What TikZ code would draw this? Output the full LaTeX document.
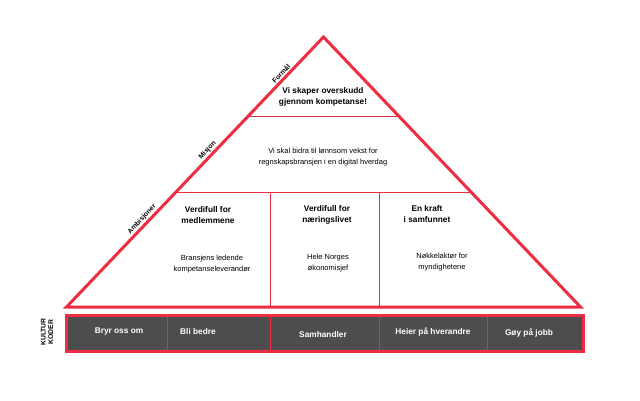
\documentclass[tikz,border=0pt]{standalone}
\usepackage{fontspec}
\setmainfont{Liberation Sans}
\definecolor{pyrred}{RGB}{239,45,66}
\definecolor{bargray}{RGB}{77,77,77}
\begin{document}
\begin{tikzpicture}[x=1pt,y=-1pt,
  txt/.style={align=center, font=\fontsize{7.5}{11}\selectfont},
  head/.style={align=center, font=\fontsize{8.3}{11.5}\selectfont\bfseries},
  side/.style={font=\fontsize{6.8}{7}\selectfont\bfseries, sloped, above, inner sep=2.5pt},
  code/.style={align=center, text=white, font=\fontsize{8.3}{10}\selectfont\bfseries}]
\useasboundingbox (0,0) rectangle (640,400);
\coordinate (top) at (323.5,37);
\coordinate (left) at (66.5,307);
\coordinate (right) at (580.5,307);
% inner lines
\draw[pyrred, line width=1pt] (248,116) -- (399,116);
\draw[pyrred, line width=1pt] (176,192) -- (471,192);
\draw[pyrred, line width=1pt] (270,192) -- (270,307);
\draw[pyrred, line width=1pt] (379,192) -- (379,307);
\draw[pyrred, line width=3pt, line join=miter] (left) -- (top) -- (right) -- cycle;
% side labels
\path (left) -- (top) node[side, pos=0.85] (formal) {Formål}
  node[side, pos=0.565] (misjon) {Misjon}
  node[side, pos=0.31] (ambisjoner) {Ambisjoner};
% texts
\node[head] (formaltxt) at (323,97) {Vi skaper overskudd\\gjennom kompetanse!};
\node[txt] (misjontxt) at (323,157) {Vi skal bidra til lønnsom vekst for\\regnskapsbransjen i en digital hverdag};
\node[head] (amb1) at (208,215) {Verdifull for\\medlemmene};
\node[head] (amb2) at (327,215) {Verdifull for\\næringslivet};
\node[head] (amb3) at (427,214) {En kraft\\i samfunnet};
\node[txt] (sub1) at (212,264) {Bransjens ledende\\kompetanseleverandør};
\node[txt] (sub2) at (328,263) {Hele Norges\\økonomisjef};
\node[txt] (sub3) at (442,262) {Nøkkelaktør for\\myndighetene};
% culture bar
\filldraw[draw=pyrred, fill=bargray, line width=3pt] (66,315) rectangle (583,351);
\foreach \x in {167,270,379,487}
  \draw[pyrred, line width=1pt] (\x,316.5) -- (\x,349.5);
\node[rotate=90, align=center, font=\fontsize{6.8}{7.5}\selectfont\bfseries] (kultur) at (47,332) {KULTUR\\KODER};
\node[code] (c1) at (119,331) {Bryr oss om};
\node[code] (c2) at (198,332) {Bli bedre};
\node[code] (c3) at (323,335) {Samhandler};
\node[code] (c4) at (433,332) {Heier på hverandre};
\node[code] (c5) at (529,333) {Gøy på jobb};
\end{tikzpicture}
\end{document}
